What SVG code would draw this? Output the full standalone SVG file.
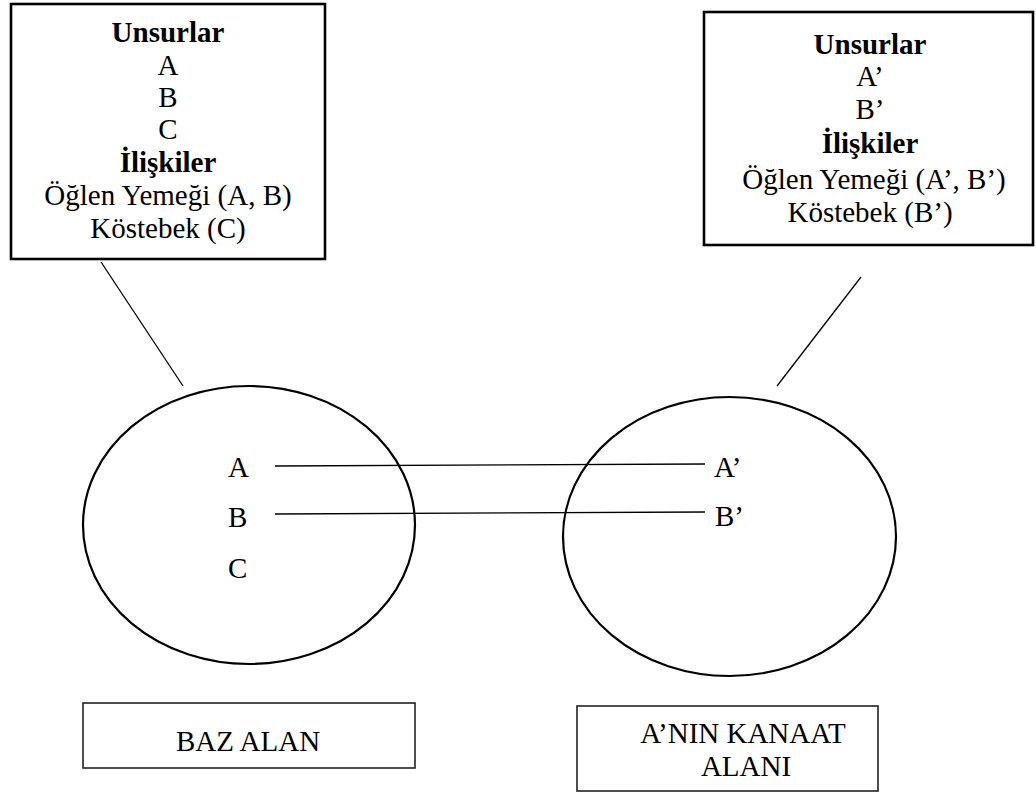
<svg xmlns="http://www.w3.org/2000/svg" width="1036" height="794" viewBox="0 0 1036 794">
  <style>
    text { font-family: "Liberation Serif", "Times New Roman", serif; font-size: 29px; fill: #000; }
    .c { text-anchor: middle; }
    .b { font-weight: bold; }
    .box { fill: #fff; stroke: #000; stroke-width: 2.6; }
    .lbl { fill: #fff; stroke: #222; stroke-width: 1.6; }
    .dom { fill: none; stroke: #000; stroke-width: 2.2; }
    .link { stroke: #000; stroke-width: 1.3; fill: none; }
  </style>

  <!-- connectors -->
  <g id="connectors">
    <line class="link" x1="101" y1="262" x2="183" y2="386"/>
    <line class="link" x1="861" y1="277" x2="777" y2="386"/>
    <line class="link" x1="275" y1="466" x2="705" y2="464"/>
    <line class="link" x1="275" y1="514" x2="705" y2="512"/>
  </g>

  <!-- base domain: elements and relations -->
  <g id="base-info">
    <rect class="box" x="11" y="4" width="314" height="255"/>
    <text class="c b" x="168" y="42">Unsurlar</text>
    <text class="c" x="168" y="75">A</text>
    <text class="c" x="168" y="107">B</text>
    <text class="c" x="168" y="139">C</text>
    <text class="c b" x="168" y="172">İlişkiler</text>
    <text class="c" x="168" y="205">Öğlen Yemeği (A, B)</text>
    <text class="c" x="168" y="238">Köstebek (C)</text>
  </g>

  <!-- target domain: elements and relations -->
  <g id="target-info">
    <rect class="box" x="704" y="12" width="329" height="233"/>
    <text class="c b" x="870" y="54">Unsurlar</text>
    <text class="c" x="870" y="86">A’</text>
    <text class="c" x="870" y="119">B’</text>
    <text class="c b" x="870" y="153">İlişkiler</text>
    <text class="c" x="874" y="189">Öğlen Yemeği (A’, B’)</text>
    <text class="c" x="870" y="222">Köstebek (B’)</text>
  </g>

  <!-- base domain ellipse -->
  <g id="base-domain">
    <ellipse class="dom" cx="249" cy="525" rx="166" ry="139"/>
    <text x="228" y="477">A</text>
    <text x="228" y="527">B</text>
    <text x="228" y="578">C</text>
  </g>

  <!-- target domain ellipse -->
  <g id="target-domain">
    <ellipse class="dom" cx="729.5" cy="536.5" rx="166.5" ry="139.5"/>
    <text x="714" y="477">A’</text>
    <text x="715" y="526">B’</text>
  </g>

  <!-- captions -->
  <g id="base-label">
    <rect class="lbl" x="83" y="703" width="332" height="65"/>
    <text class="c" x="248" y="751">BAZ ALAN</text>
  </g>

  <g id="target-label">
    <rect class="lbl" x="577" y="706" width="301" height="85"/>
    <text class="c" x="743" y="743">A’NIN KANAAT</text>
    <text class="c" x="746" y="776">ALANI</text>
  </g>
</svg>
